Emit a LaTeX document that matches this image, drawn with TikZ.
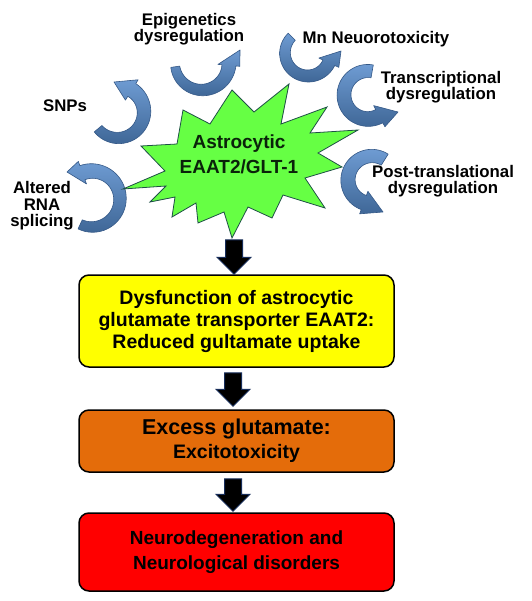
\documentclass[tikz,border=0pt]{standalone}
\usepackage{fontspec}
\setmainfont{Liberation Sans}
\usetikzlibrary{calc}
\definecolor{ribbonc}{RGB}{79,129,189}
\definecolor{ribbonl}{RGB}{110,155,210}
\definecolor{ribbond}{RGB}{52,88,135}
\definecolor{stargreen}{RGB}{102,255,68}
\definecolor{staredge}{RGB}{30,80,70}
\definecolor{startext}{RGB}{10,35,10}
\definecolor{boxyellow}{RGB}{255,255,0}
\definecolor{boxorange}{RGB}{228,108,10}
\definecolor{boxred}{RGB}{255,0,0}
\definecolor{navyedge}{RGB}{23,45,90}
\tikzset{
  ribbonsty/.style={top color=ribbonl, bottom color=ribbonc!80!black, draw=ribbond, line width=0.6pt, line join=round},
  lbl/.style={font=\bfseries\fontsize{16.8}{16.5}\selectfont, align=center, inner sep=0pt},
  boxsty/.style={draw=black, line width=1.5pt, rounded corners=10pt, minimum width=315pt, align=center, inner sep=0pt},
  blockarrow/.style={fill=black, draw=navyedge, line width=1pt},
  starsty/.style={fill=stargreen, draw=staredge, line width=0.8pt, line join=miter}
}
% #1 cx #2 cy #3 r #4 a0 #5 a1 #6 w0 #7 w1 #8 head half width #9 tip
\newcommand{\myribbon}[9]{%
  \shadedraw[ribbonsty] plot[domain=#4:#5,samples=40,variable=\t]
    ({#1+(#3+(#6+(#7-#6)*(\t-(#4))/((#5)-(#4)))/2)*cos(\t)},
     {#2+(#3+(#6+(#7-#6)*(\t-(#4))/((#5)-(#4)))/2)*sin(\t)})
   -- ({#1+(#3+#8)*cos(#5)},{#2+(#3+#8)*sin(#5)})
   -- (#9)
   -- ({#1+(#3-#8)*cos(#5)},{#2+(#3-#8)*sin(#5)})
   -- plot[domain=#5:#4,samples=40,variable=\t]
    ({#1+(#3-(#6+(#7-#6)*(\t-(#4))/((#5)-(#4)))/2)*cos(\t)},
     {#2+(#3-(#6+(#7-#6)*(\t-(#4))/((#5)-(#4)))/2)*sin(\t)})
   -- cycle;}
\newcommand{\blockarr}[2]{%
  \path[blockarrow] let \p1=(#1), \p2=(#2) in
    (\x1-8.5pt,\y1) -- (\x1+8.5pt,\y1) -- (\x1+8.5pt,\y2+17pt) -- (\x1+17pt,\y2+17pt)
    -- (\x1,\y2) -- (\x1-17pt,\y2+17pt) -- (\x1-8.5pt,\y2+17pt) -- cycle;}
\begin{document}
\begin{tikzpicture}[x=1pt,y=-1pt]
\useasboundingbox[fill=white] (0,0) rectangle (531,601);

% curved ribbon arrows
\myribbon{118}{112}{26}{140}{-58}{10}{15}{12}{114,82}   % SNPs
\myribbon{92}{199}{28}{115}{-110}{10}{15}{12}{67,172}   % Altered RNA splicing
\myribbon{202}{63}{27}{172}{5}{9}{14}{11}{240,50}       % Epigenetics
\myribbon{308}{53}{23}{225}{25}{10}{13}{11}{341,51}     % Mn
\myribbon{368}{95}{24}{280}{62}{13}{15}{12}{398,112}    % Transcriptional
\myribbon{372}{180}{24}{-58}{-250}{13}{15}{12}{383,212} % Post-translational

% star
\draw[starsty] (123,189) -- (165,171) -- (141,146) -- (177,144) -- (183,110) -- (210,124)
  -- (232,90) -- (254,112) -- (289,84) -- (281,124) -- (327,107) -- (310,133)
  -- (358,130) -- (318,153) -- (342,167) -- (305,178) -- (325,208) -- (283,195)
  -- (272,218) -- (248,207) -- (232,238) -- (224,212) -- (198,223) -- (196,203)
  -- (172,217) -- (175,197) -- (150,202) -- (166,186) -- cycle;
\coordinate (startip) at (232,238);
\node[align=center, inner sep=0pt, text=startext, font=\bfseries\fontsize{19}{25}\selectfont] (starlbl) at (239,154) {Astrocytic\\EAAT2/GLT-1};

% labels
\node[lbl] (epi) at (189,29) {Epigenetics\\dysregulation};
\node[lbl] (mn) at (376,39) {Mn Neuorotoxicity};
\node[lbl] (trans) at (441,87) {Transcriptional\\dysregulation};
\node[lbl] (post) at (443,181) {Post-translational\\dysregulation};
\node[lbl] (snp) at (65,106) {SNPs};
\node[lbl] (rna) at (42,206) {Altered\\RNA\\splicing};

% boxes
\node[boxsty, fill=boxyellow, minimum height=92pt, font=\bfseries\fontsize{19.5}{22}\selectfont] (yellow) at (236.5,321)
  {Dysfunction of astrocytic\\glutamate transporter EAAT2:\\Reduced gultamate uptake};
\node[boxsty, fill=boxorange, minimum height=62pt, font=\bfseries\fontsize{19.5}{24}\selectfont] (orange) at (236.5,441)
  {{\fontsize{21.5}{24}\selectfont Excess glutamate:}\\Excitotoxicity};
\node[boxsty, fill=boxred, minimum height=78pt, font=\bfseries\fontsize{19}{25}\selectfont] (red) at (236.5,552)
  {Neurodegeneration and\\Neurological disorders};

% block arrows
\blockarr{$(startip)+(2,2)$}{$(yellow.north)+(-2.5,0)$}
\blockarr{$(yellow.south)+(-3.5,5)$}{$(orange.north)+(-3.5,-3)$}
\blockarr{$(orange.south)+(-3.5,6)$}{$(red.north)+(-3.5,-1)$}
\end{tikzpicture}
\end{document}
